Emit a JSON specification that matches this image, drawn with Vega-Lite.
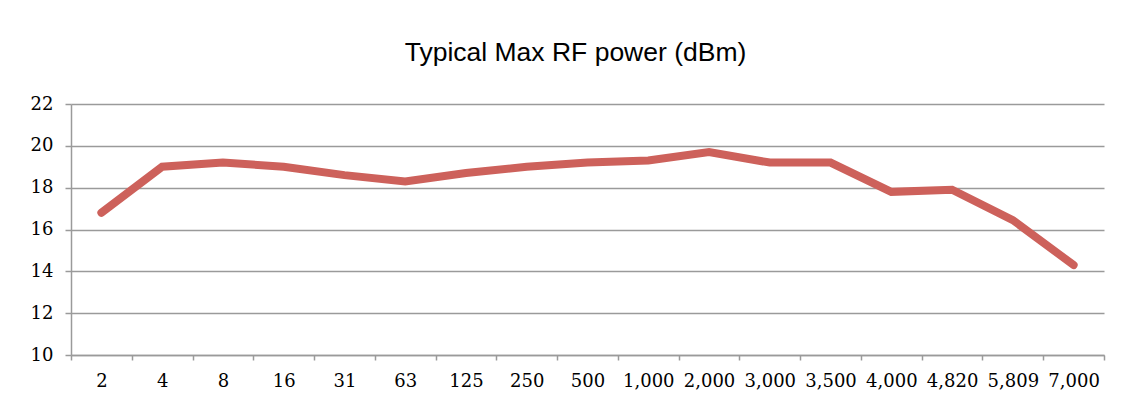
{
  "$schema": "https://vega.github.io/schema/vega-lite/v6.json",
  "autosize": "none",
  "width": 1033,
  "height": 251,
  "padding": {"left": 71, "top": 104, "right": 23, "bottom": 50},
  "background": "white",
  "title": {
    "text": "Typical Max RF power (dBm)",
    "font": "Liberation Sans",
    "fontSize": 26.5,
    "fontWeight": "normal",
    "color": "#000000",
    "anchor": "middle",
    "dx": -12,
    "baseline": "alphabetic",
    "offset": 8
  },
  "data": {
    "values": [
      {"freq": "2", "power": 16.8},
      {"freq": "4", "power": 19.0},
      {"freq": "8", "power": 19.2},
      {"freq": "16", "power": 19.0},
      {"freq": "31", "power": 18.6},
      {"freq": "63", "power": 18.3},
      {"freq": "125", "power": 18.7},
      {"freq": "250", "power": 19.0},
      {"freq": "500", "power": 19.2},
      {"freq": "1,000", "power": 19.3},
      {"freq": "2,000", "power": 19.7},
      {"freq": "3,000", "power": 19.2},
      {"freq": "3,500", "power": 19.2},
      {"freq": "4,000", "power": 17.8},
      {"freq": "4,820", "power": 17.9},
      {"freq": "5,809", "power": 16.45},
      {"freq": "7,000", "power": 14.3}
    ]
  },
  "mark": {
    "type": "line",
    "color": "#CD615B",
    "strokeWidth": 8,
    "strokeCap": "round",
    "strokeJoin": "miter"
  },
  "encoding": {
    "x": {
      "field": "freq",
      "type": "ordinal",
      "sort": null,
      "scale": {"type": "band", "paddingInner": 0, "paddingOuter": 0},
      "axis": {
        "title": null,
        "labelAngle": 0,
        "tickBand": "extent",
        "grid": false,
        "ticks": true,
        "tickSize": 5,
        "tickColor": "#9a9a9a",
        "tickWidth": 1.5,
        "domainColor": "#9a9a9a",
        "domainWidth": 1.5,
        "labelFont": "DejaVu Serif",
        "labelFontSize": 18,
        "labelColor": "#000000",
        "labelPadding": 12
      }
    },
    "y": {
      "field": "power",
      "type": "quantitative",
      "scale": {"domain": [10, 22], "nice": false, "zero": false},
      "axis": {
        "title": null,
        "values": [10, 12, 14, 16, 18, 20, 22],
        "grid": true,
        "gridColor": "#9a9a9a",
        "gridWidth": 1.5,
        "tickSize": 6,
        "tickColor": "#9a9a9a",
        "tickWidth": 1.5,
        "domainColor": "#9a9a9a",
        "domainWidth": 1.5,
        "labelFont": "DejaVu Serif",
        "labelFontSize": 18,
        "labelColor": "#000000",
        "labelPadding": 12
      }
    }
  },
  "config": {"view": {"stroke": null}}
}
